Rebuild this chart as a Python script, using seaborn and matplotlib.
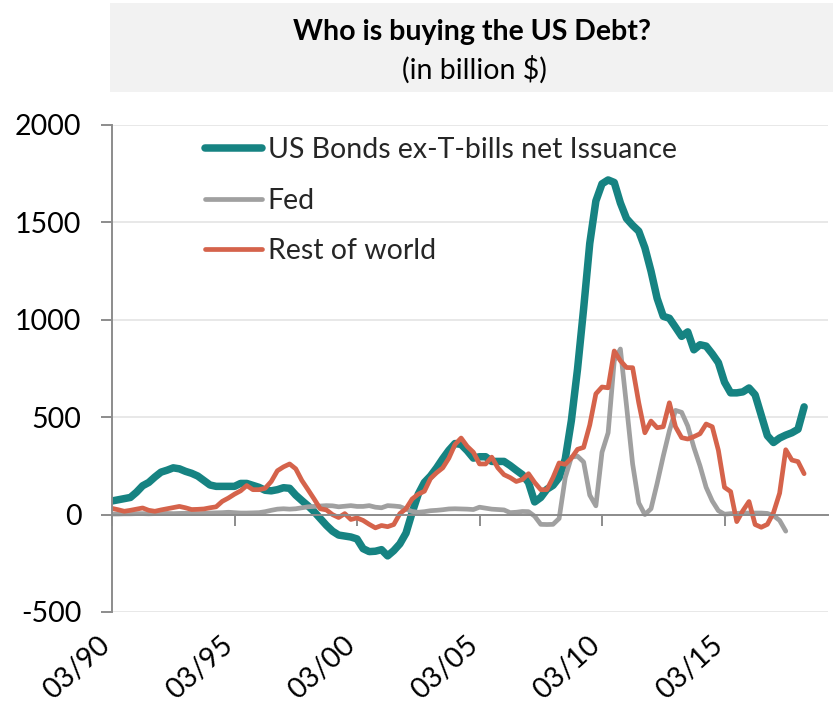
import numpy as np
import pandas as pd
import matplotlib
matplotlib.use("Agg")
import matplotlib.pyplot as plt
import matplotlib.transforms as mtransforms
import seaborn as sns
from matplotlib.patches import Rectangle

# Quarterly observations, 1990Q1 .. 2018Q2 (billion $)
quarters = pd.period_range("1990Q1", "2018Q2", freq="Q")

us_bonds = [
    70, 76, 82, 88, 115, 148, 165, 193, 218, 228, 240, 235, 222, 212, 198, 175,
    152, 145, 145, 145, 145, 160, 160, 150,
    140, 125, 122, 128, 138, 135, 100, 72,
    45, 15, -20, -55, -85, -105, -110, -115,
    -125, -175, -190, -188, -180, -212, -185, -150,
    -95, 10, 105, 165, 198, 240, 287, 330,
    365, 360, 328, 290, 297, 297, 273, 273,
    273, 252, 228, 205, 165, 65, 88, 130,
    150, 190, 285, 483, 746, 1057, 1392, 1610,
    1698, 1718, 1705, 1600, 1520, 1485, 1455, 1370,
    1250, 1110, 1018, 1008, 962, 915, 938, 846,
    872, 865, 825, 780, 680, 625, 625, 630,
    650, 615, 510, 405, 370, 393, 408, 420, 438, 553,
]

fed = [
    3, 3, 4, 4, 5, 5, 4, 5, 6, 6, 5, 6, 7, 6, 5, 6,
    8, 9, 10, 12, 10, 8, 8, 9,
    10, 15, 22, 28, 30, 28, 30, 35,
    40, 42, 44, 46, 45, 40, 43, 46,
    42, 42, 46, 38, 35, 46, 44, 41,
    28, 16, 12, 15, 20, 22, 25, 29,
    30, 29, 28, 26, 38, 33, 28, 26,
    24, 10, 12, 16, 15, -8, -50, -51,
    -50, -20, 190, 295, 300, 270, 100, 45,
    320, 420, 790, 850, 560, 260, 60, 0,
    30, 160, 300, 430, 535, 525, 455, 345,
    250, 140, 70, 20, 2, 5, 6, 8,
    8, 8, 8, 6, -5, -30, -85, np.nan, np.nan, np.nan,
]

rest_of_world = [
    32, 25, 17, 22, 28, 34, 22, 17, 24, 30, 36, 42, 35, 26, 27, 29,
    35, 40, 68, 85, 105, 122, 149, 128,
    128, 135, 170, 225, 245, 260, 235, 175,
    128, 80, 30, 24, 0, -15, 5, -25,
    -17, -30, -50, -68, -56, -62, -51, 5,
    30, 80, 105, 120, 185, 215, 240, 290,
    360, 393, 350, 320, 260, 260, 295, 240,
    205, 190, 170, 180, 210, 165, 128, 128,
    190, 265, 258, 290, 335, 345, 460, 620,
    655, 651, 840, 790, 755, 754, 574, 420,
    480, 446, 451, 574, 451, 395, 388, 400,
    415, 465, 451, 330, 140, 118, -36, 20,
    67, -51, -65, -50, 10, 110, 333, 280, 272, 210,
]

series_names = ["US Bonds ex-T-bills net Issuance", "Fed", "Rest of world"]
series_colors = ["#168382", "#A0A0A0", "#D5634B"]
series_widths = [5.4, 3.4, 3.4]

tick_years = [1990, 1995, 2000, 2005, 2010, 2015]
tick_labels = ["03/90", "03/95", "03/00", "03/05", "03/10", "03/15"]
y_ticks = [-500, 0, 500, 1000, 1500, 2000]

year = quarters.year + (quarters.quarter - 1) / 4.0
df = pd.DataFrame({
    "year": year,
    series_names[0]: us_bonds,
    series_names[1]: fed,
    series_names[2]: rest_of_world,
})

sns.set_theme(style="white")
plt.rcParams["font.family"] = ["Lato", "DejaVu Sans"]
plt.rcParams["axes.unicode_minus"] = False

FS = 20.5
W, H = 833, 703
fig = plt.figure(figsize=(W / 100, H / 100), dpi=100)
ax = fig.add_axes([112 / W, (H - 612) / H, (828 - 112) / W, (612 - 125) / H])

# Title banner
fig.patches.append(Rectangle((110 / W, (H - 92) / H), 1 - 110 / W, 89 / H,
                             transform=fig.transFigure, facecolor="#F2F2F2",
                             edgecolor="none", zorder=0))
fig.text(472 / W, (H - 32) / H, "Who is buying the US Debt?", ha="center", va="center",
         fontsize=20.5, fontweight="bold", color="#000000")
fig.text(474 / W, (H - 70) / H, "(in billion $)", ha="center", va="center",
         fontsize=20.5, color="#000000")

for name, color, lw in zip(series_names, series_colors, series_widths):
    sns.lineplot(data=df, x="year", y=name, ax=ax, color=color, linewidth=lw,
                 label=name, solid_joinstyle="round", solid_capstyle="round")

ax.set_xlim(1990, 1990 + (828 - 112) / 24.5)
ax.set_ylim(-500, 2000)
ax.set_yticks(y_ticks)
ax.set_yticklabels([str(v) for v in y_ticks])
ax.set_xlabel("")
ax.set_ylabel("")

ax.yaxis.grid(True, color="#E6E6E6", linewidth=1.3)
ax.xaxis.grid(False)
ax.set_axisbelow(True)

for s in ["top", "right"]:
    ax.spines[s].set_visible(False)
ax.spines["left"].set_color("#8C8C8C")
ax.spines["left"].set_linewidth(1.4)
ax.spines["bottom"].set_position(("data", 0))
ax.spines["bottom"].set_color("#8C8C8C")
ax.spines["bottom"].set_linewidth(1.4)

ax.set_xticks(tick_years)
ax.tick_params(axis="x", bottom=True, direction="out", length=8, width=1.4,
               color="#8C8C8C", labelbottom=False)
ax.tick_params(axis="y", left=True, direction="out", length=8, width=1.4,
               color="#8C8C8C", labelsize=FS, pad=14, labelcolor="#000000")

sec = ax.secondary_xaxis(0.0)
sec.set_xticks(tick_years)
sec.set_xticklabels(tick_labels)
sec.spines["bottom"].set_visible(False)
sec.tick_params(axis="x", length=0, pad=14, labelsize=FS, labelcolor="#000000")
shift = mtransforms.ScaledTranslation(-14 / 100, 0, fig.dpi_scale_trans)
for lbl in sec.get_xticklabels():
    lbl.set_rotation(42)
    lbl.set_ha("right")
    lbl.set_rotation_mode("anchor")
    lbl.set_transform(lbl.get_transform() + shift)

leg = ax.legend(loc="upper left", bbox_to_anchor=(0.13, 0.975), frameon=False,
                fontsize=FS, handlelength=2.0, handletextpad=0.2,
                labelspacing=0.86, borderpad=0, borderaxespad=0)
for h, lw in zip(leg.get_lines(), series_widths):
    h.set_linewidth(lw)
    h.set_solid_capstyle("round")

fig.savefig("out.png", dpi=100)
